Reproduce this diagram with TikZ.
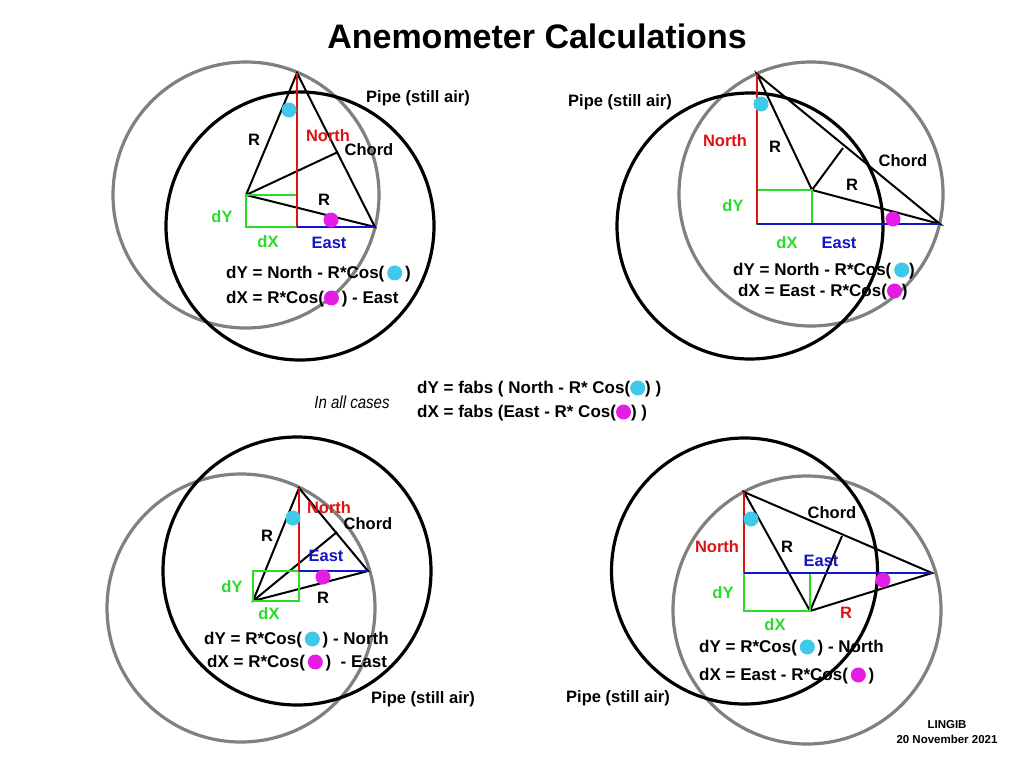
\documentclass[tikz,border=0pt]{standalone}
\usepackage{fontspec}
\setmainfont{Liberation Sans}
\usepackage{xcolor}
\usetikzlibrary{positioning}
\definecolor{dotcyan}{RGB}{64,200,232}
\definecolor{dotmag}{RGB}{228,28,228}
\definecolor{northred}{RGB}{218,20,20}
\definecolor{eastblue}{RGB}{20,20,200}
\definecolor{offgreen}{RGB}{40,220,40}
\definecolor{probegray}{RGB}{128,128,128}
\tikzset{
    pipe/.style={draw=black, line width=3.2pt},
    probe/.style={draw=probegray, line width=3.2pt},
    leg/.style={draw=black, line width=2pt},
    northleg/.style={draw=northred, line width=2.4pt},
    eastleg/.style={draw=eastblue, line width=2.4pt},
    offbox/.style={draw=offgreen, line width=2pt},
    cball/.style={circle, fill=dotcyan, minimum size=15pt, inner sep=0pt},
    mball/.style={circle, fill=dotmag, minimum size=15pt, inner sep=0pt},
    lbl/.style={font=\fontsize{16.5}{18}\selectfont\bfseries, inner sep=0pt},
    eqn/.style={font=\fontsize{17}{19}\selectfont\bfseries, inner sep=0pt, anchor=west}
}
\newcommand{\cyanball}{\tikz[baseline=-6pt]\fill[dotcyan] (0pt,0pt) circle (7.5pt);}
\newcommand{\magball}{\tikz[baseline=-6pt]\fill[dotmag] (0pt,0pt) circle (7.5pt);}

\begin{document}
\begin{tikzpicture}[x=1pt, y=-1pt]
    \useasboundingbox[fill=white] (0,0) rectangle (1024,768);

    \node[font=\fontsize{34}{36}\selectfont\bfseries] (title) at (537,36) {Anemometer Calculations};

    % top left
    \coordinate (O1) at (297,227);
    \coordinate (S1) at (246,195);
    \coordinate (A1) at (297,73);
    \coordinate (E1) at (375,227);
    \coordinate (M1) at (338,152);
    \draw[probe] (S1) circle (133);
    \draw[pipe] (300,226) circle (134);
    \draw[leg] (S1) -- (A1) -- (E1) -- cycle;
    \draw[leg] (S1) -- (M1);
    \draw[offbox] (S1) rectangle (O1);
    \draw[northleg] (A1) -- (O1);
    \draw[eastleg] (O1) -- (E1);
    \node[cball] (c1) at (289,110) {};
    \node[mball] (m1) at (331,220) {};
    \node[lbl] (r1a) at (254,140) {R};
    \node[lbl, text=northred] (north1) at (328,136) {North};
    \node[lbl] (chord1) at (369,150) {Chord};
    \node[lbl] (r1b) at (324,200) {R};
    \node[lbl, text=offgreen] (dy1) at (222,217) {dY};
    \node[lbl, text=offgreen] (dx1) at (268,242) {dX};
    \node[lbl, text=eastblue] (east1) at (329,243) {East};
    \node[lbl] (pipe1) at (418,98) {Pipe (still air)};
    \node[eqn] (eqy1) at (226,274) {dY = North - R*Cos(\,\cyanball\,)};
    \node[eqn] (eqx1) at (226,299) {dX = R*Cos(\magball\,) - East};

    % top right
    \coordinate (O2) at (757,224);
    \coordinate (S2) at (812,190);
    \coordinate (A2) at (757,74);
    \coordinate (E2) at (940,224);
    \coordinate (M2) at (843,148);
    \draw[probe] (811,194) circle (132);
    \draw[pipe] (750,226) circle (133);
    \draw[leg] (S2) -- (A2) -- (E2) -- cycle;
    \draw[leg] (S2) -- (M2);
    \draw[offbox] (S2) rectangle (O2);
    \draw[northleg] (A2) -- (O2);
    \draw[eastleg] (O2) -- (E2);
    \node[cball] (c2) at (761,104) {};
    \node[mball] (m2) at (893,219) {};
    \node[lbl] (pipe2) at (620,102) {Pipe (still air)};
    \node[lbl, text=northred] (north2) at (725,141) {North};
    \node[lbl] (r2a) at (775,147) {R};
    \node[lbl] (chord2) at (903,161) {Chord};
    \node[lbl] (r2b) at (852,185) {R};
    \node[lbl, text=offgreen] (dy2) at (733,206) {dY};
    \node[lbl, text=offgreen] (dx2) at (787,243) {dX};
    \node[lbl, text=eastblue] (east2) at (839,243) {East};
    \node[eqn] (eqy2) at (733,271) {dY = North - R*Cos(\,\cyanball)};
    \node[eqn] (eqx2) at (738,292) {dX = East - R*Cos(\magball)};

    % middle
    \node[font=\fontsize{17.5}{19}\selectfont\itshape] (all) at (352,402) {\scalebox{0.86}[1]{In all cases}};
    \node[eqn] (eqy0) at (417,389) {dY = fabs ( North - R* Cos(\cyanball) )};
    \node[eqn] (eqx0) at (417,413) {dX = fabs (East - R* Cos(\magball) )};

    % bottom left
    \coordinate (O3) at (299,571);
    \coordinate (S3) at (253,601);
    \coordinate (A3) at (299,488);
    \coordinate (E3) at (368,571);
    \coordinate (M3) at (337,532);
    \draw[probe] (241,608) circle (134);
    \draw[pipe] (297,571) circle (134);
    \draw[leg] (S3) -- (A3) -- (E3) -- cycle;
    \draw[leg] (S3) -- (M3);
    \draw[offbox] (S3) rectangle (O3);
    \draw[northleg] (A3) -- (O3);
    \draw[eastleg] (O3) -- (E3);
    \node[cball] (c3) at (293,518) {};
    \node[mball] (m3) at (323,577) {};
    \node[lbl, text=northred] (north3) at (329,508) {North};
    \node[lbl] (chord3) at (368,524) {Chord};
    \node[lbl] (r3a) at (267,536) {R};
    \node[lbl, text=eastblue] (east3) at (326,556) {East};
    \node[lbl, text=offgreen] (dy3) at (232,587) {dY};
    \node[lbl, text=offgreen] (dx3) at (269,614) {dX};
    \node[lbl] (r3b) at (323,598) {R};
    \node[eqn] (eqy3) at (204,640) {dY = R*Cos(\,\cyanball\,) - North};
    \node[eqn] (eqx3) at (207,663) {dX = R*Cos(\,\magball\,) \ - East};
    \node[lbl] (pipe3) at (423,699) {Pipe (still air)};

    % bottom right
    \coordinate (O4) at (744,573);
    \coordinate (S4) at (810,611);
    \coordinate (A4) at (744,492);
    \coordinate (E4) at (932,573);
    \coordinate (M4) at (842,536);
    \draw[probe] (807,610) circle (134);
    \draw[pipe] (744.5,571) circle (133);
    \draw[leg] (S4) -- (A4) -- (E4) -- cycle;
    \draw[leg] (S4) -- (M4);
    \draw[offbox] (S4) rectangle (O4);
    \draw[northleg] (A4) -- (O4);
    \draw[eastleg] (O4) -- (E4);
    \node[cball] (c4) at (751,519) {};
    \node[mball] (m4) at (883,580) {};
    \node[lbl] (chord4) at (832,513) {Chord};
    \node[lbl, text=northred] (north4) at (717,547) {North};
    \node[lbl] (r4a) at (787,547) {R};
    \node[lbl, text=eastblue] (east4) at (821,561) {East};
    \node[lbl, text=offgreen] (dy4) at (723,593) {dY};
    \node[lbl, text=offgreen] (dx4) at (775,625) {dX};
    \node[lbl, text=northred] (r4b) at (846,613) {R};
    \node[eqn] (eqy4) at (699,648) {dY = R*Cos(\,\cyanball\,) - North};
    \node[eqn] (eqx4) at (699,676) {dX = East - R*Cos(\,\magball\,)};
    \node[lbl] (pipe4) at (618,698) {Pipe (still air)};

    \node[font=\fontsize{11.5}{15}\selectfont\bfseries, align=center] (sign) at (947,732) {LINGIB\\20 November 2021};
\end{tikzpicture}
\end{document}
